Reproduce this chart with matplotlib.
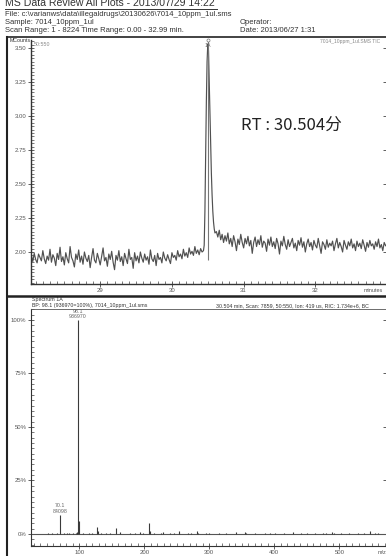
import matplotlib
matplotlib.use('Agg')
import matplotlib.pyplot as plt
import numpy as np
from matplotlib.lines import Line2D
from matplotlib.ticker import MultipleLocator, FormatStrFormatter

# ---------------- data ----------------
rt = 30.504
# TIC (MCounts x 1000) before the peak, scans every 0.02 min from 28.04
tic_pre = [
    1975, 1930, 1990, 1945, 1920, 1985, 1960, 1935, 2010, 1950,
    1915, 1970, 1940, 2020, 1925, 1980, 1955, 1900, 1990, 1945,
    2035, 1930, 1965, 1905, 1995, 1950, 1920, 2040, 1960, 1935,
    1890, 1985, 1945, 2015, 1925, 1970, 1910, 2000, 1955, 1930,
    1975, 1885, 1960, 2025, 1940, 1920, 1990, 1950, 1905, 1970,
    2030, 1935, 1960, 1895, 1985, 1945, 2005, 1925, 1870, 1975,
    1940, 2010, 1930, 1965, 1900, 1990, 1950, 1915, 2020, 1945,
    1960, 1880, 1995, 1935, 1970, 1920, 2000, 1955, 1925, 1985,
    1940, 1965, 1910, 2015, 1950, 1930, 1975, 1900, 1990, 1945,
    1960, 1920, 2000, 1955, 1935, 1980, 1945, 1915, 1995, 1960,
    1975, 1940, 2010, 1965, 1985, 1950, 2020, 1970, 1995, 1960,
    2030, 1985, 2005, 1975, 2040, 1990, 2015, 1980, 2025, 2000,
    2010]
tic_pre_start = 28.04
# peak region
t_peak = [30.45, 30.46, 30.47, 30.48, 30.49, 30.50, 30.51, 30.52,
          30.53, 30.54, 30.55, 30.56, 30.57, 30.58, 30.59, 30.60]
tic_peak = [2050, 2300, 2700, 3100, 3400, 3530, 3480, 3250,
            3000, 2780, 2580, 2420, 2300, 2220, 2170, 2140]
# after the peak, every 0.02 min from 30.62
tic_post = [
    2150, 2110, 2160, 2090, 2130, 2070, 2120, 2080, 2140, 2060,
    2100, 2040, 2120, 2075, 2010, 2095, 2055, 2130, 2070, 2030,
    2100, 2060, 2115, 2045, 2085, 1990, 2070, 2110, 2040, 2090,
    2055, 2120, 2035, 2080, 2065, 2005, 2095, 2050, 2110, 2040,
    2075, 2025, 2100, 2060, 1985, 2080, 2045, 2115, 2055, 2020,
    2090, 2040, 2070, 2100, 2030, 2065, 2010, 2085, 2050, 2105,
    2035, 2075, 2000, 2060, 2095, 2040, 2070, 2015, 2085, 2050,
    2030, 2100, 2045, 1990, 2075, 2055, 2020, 2090, 2035, 2065,
    2045, 2080, 2010, 2060, 2100, 2030, 2070, 2040, 2000, 2085,
    2050, 2020, 2075, 2045, 2095, 2030, 2060, 2010, 2080, 2040,
    2065, 2025, 2090, 2050, 2005, 2070, 2035, 2085, 2045, 2060,
    2020, 2075, 2040, 2095, 2030, 2055, 2010, 2070, 2045, 2060]
tic_post_start = 30.62
scan_step = 0.02
marker_low = 1.94

# mass spectrum (m/z, relative %)
ms_mz = [70.1, 98.1, 99, 96, 97, 95, 127, 128, 156, 163, 193, 207, 208,
         226, 229, 253, 254, 267, 281, 282, 341, 355, 429, 489, 547,
         52, 58, 65, 77, 81, 84, 91, 105, 115, 119, 133, 141, 147, 178,
         185, 198, 215, 239, 245, 272, 295, 300, 315, 325, 356, 371, 385,
         394, 401, 415, 441, 451, 463, 475, 480, 492, 503, 515, 528, 538,
         555, 560]
ms_rel = [8.98, 100, 6.1, 1.0, 0.6, 0.5, 3.3, 1.6, 2.8, 0.8, 0.8, 5.1, 1.2,
          0.6, 0.7, 1.2, 0.6, 0.6, 1.2, 0.5, 0.8, 1.0, 0.8, 0.8, 1.2,
          0.3, 0.4, 0.4, 0.5, 0.6, 0.4, 0.5, 0.4, 0.3, 0.4, 0.5, 0.3, 0.4, 0.3,
          0.4, 0.3, 0.4, 0.5, 0.3, 0.4, 0.3, 0.4, 0.3, 0.4, 0.5, 0.3, 0.4,
          0.3, 0.4, 0.3, 0.4, 0.3, 0.5, 0.3, 0.4, 0.3, 0.4, 0.3, 0.4, 0.5,
          0.3, 0.4]
label_peaks = [(98.1, 936970), (70.1, 84098)]

# ---------------- figure ----------------
W, H = 386, 556
def fx(x): return x / W
def fy(y): return 1 - y / H

plt.rcParams['font.family'] = ['Liberation Sans', 'DejaVu Sans']
fig = plt.figure(figsize=(W / 100, H / 100), dpi=100)
fig.patch.set_facecolor('white')

hc = '#333333'
gc = '#666666'

# header
fig.text(fx(5), fy(3.5), 'MS Data Review All Plots - 2013/07/29 14:22', fontsize=7.6,
         color=hc, va='center', ha='left')
fig.add_artist(Line2D([fx(5), fx(217)], [fy(9), fy(9)], color=hc, lw=0.7))
fig.text(fx(5), fy(14), r'File: c:\varianws\data\illegaldrugs\20130626\7014_10ppm_1ul.sms',
         fontsize=5.5, color=hc, va='center')
fig.text(fx(5), fy(23), 'Sample: 7014_10ppm_1ul', fontsize=5.5, color=hc, va='center')
fig.text(fx(240), fy(23), 'Operator:', fontsize=5.5, color=hc, va='center')
fig.text(fx(5), fy(31), 'Scan Range: 1 - 8224 Time Range: 0.00 - 32.99 min.', fontsize=5.5,
         color=hc, va='center')
fig.text(fx(240), fy(31), 'Date: 2013/06/27 1:31', fontsize=5.5, color=hc, va='center')

# panel frames
fig.add_artist(Line2D([fx(7), fx(386)], [fy(37), fy(37)], color='#222222', lw=1.2))
fig.add_artist(Line2D([fx(7), fx(7)], [fy(37), fy(556)], color='#222222', lw=1.5))
fig.add_artist(Line2D([fx(7), fx(386)], [fy(295.5), fy(295.5)], color='#222222', lw=1.8))

# ---------------- chromatogram ----------------
ax1 = fig.add_axes([fx(31), fy(284), fx(386) - fx(31), fy(40) - fy(284)])
t_pre = tic_pre_start + scan_step * np.arange(len(tic_pre))
t_post = tic_post_start + scan_step * np.arange(len(tic_post))
t_all = np.concatenate([t_pre, t_peak, t_post])
y_all = np.concatenate([tic_pre, tic_peak, tic_post]) / 1000.0
ax1.plot(t_all, y_all, color='#505050', lw=0.85)
ax1.set_xlim(28.035, 32.985)
ax1.set_ylim(1.7647, 3.5588)
ax1.vlines(rt, marker_low, 3.5588, color='#777777', lw=0.8)
ax1.plot([rt], [3.5588], marker='o', ms=2.2, mfc='white', mec='#777777', mew=0.5,
         clip_on=False)
ax1.text(rt, 3.52, '1A', fontsize=3.8, color=gc, ha='center', va='center')

ax1.xaxis.set_major_locator(MultipleLocator(1))
ax1.xaxis.set_minor_locator(MultipleLocator(0.1))
ax1.yaxis.set_major_locator(MultipleLocator(0.25))
ax1.yaxis.set_minor_locator(MultipleLocator(0.025))
ax1.yaxis.set_major_formatter(FormatStrFormatter('%.2f'))
ax1.xaxis.set_major_formatter(FormatStrFormatter('%d'))
ax1.spines['top'].set_visible(False)
ax1.spines['right'].set_visible(False)
ax1.spines['left'].set_color('#333333')
ax1.spines['bottom'].set_color('#333333')
ax1.spines['left'].set_linewidth(1.0)
ax1.spines['bottom'].set_linewidth(1.0)
ax1.yaxis.set_ticks_position('both')
ax1.tick_params(axis='y', which='major', direction='inout', length=5, width=0.6,
                labelsize=4.3, labelcolor='#555555', pad=0.8, color='#444444')
ax1.tick_params(axis='y', which='minor', direction='in', length=2, width=0.5,
                color='#444444', right=False)
ax1.tick_params(axis='x', which='major', direction='inout', length=4, width=0.6,
                labelsize=4.3, labelcolor='#555555', pad=1, color='#444444')
ax1.tick_params(axis='x', which='minor', direction='in', length=2.2, width=0.5,
                color='#444444')
ax1.patch.set_alpha(0)

fig.text(fx(10), fy(41), 'MCounts', fontsize=3.8, color=hc, va='center')
fig.text(fx(34), fy(45), '50:550', fontsize=3.8, color='#888888', va='center')
fig.text(fx(380), fy(41), '7014_10ppm_1ul.SMS TIC', fontsize=3.6, color='#888888',
         va='center', ha='right')
fig.text(fx(364), fy(290), 'minutes', fontsize=4.0, color='#555555', va='center')
ax1.text(30.97, 2.93, 'RT : 30.504分', fontsize=12, color='#222222', va='center',
         ha='left', family=['Noto Sans CJK SC', 'DejaVu Sans'])

# ---------------- spectrum ----------------
ax2 = fig.add_axes([fx(31), fy(546), fx(386) - fx(31), fy(309) - fy(546)])
ax2.set_xlim(25.7, 571.8)
ax2.set_ylim(-5.61, 105.1)
ax2.axhline(0, color='#555555', lw=0.8)
ax2.vlines(ms_mz, 0, ms_rel, color='#3a3a3a', lw=0.8)
for mz, ab in label_peaks:
    rel = ms_rel[ms_mz.index(mz)]
    ax2.text(mz, rel + 0.5, f'{mz:.1f}\n{ab}', fontsize=3.8, color=gc, ha='center',
             va='bottom', linespacing=1.05)

ax2.xaxis.set_major_locator(MultipleLocator(100))
ax2.xaxis.set_minor_locator(MultipleLocator(10))
ax2.yaxis.set_minor_locator(MultipleLocator(2.5))
ax2.yaxis.set_major_formatter(FormatStrFormatter('%d%%'))
ax2.set_yticks([0, 25, 50, 75, 100])
ax2.spines['right'].set_visible(False)
ax2.spines['top'].set_color('#555555')
ax2.spines['top'].set_linewidth(0.6)
ax2.spines['left'].set_color('#333333')
ax2.spines['bottom'].set_color('#333333')
ax2.yaxis.set_ticks_position('both')
ax2.tick_params(axis='y', which='major', direction='inout', length=5, width=0.6,
                labelsize=4.3, labelcolor='#555555', pad=0.8, color='#444444')
ax2.tick_params(axis='y', which='minor', direction='in', length=2, width=0.5,
                color='#444444', right=False)
ax2.tick_params(axis='x', which='major', direction='inout', length=4, width=0.6,
                labelsize=4.3, labelcolor='#555555', pad=1, color='#444444')
ax2.tick_params(axis='x', which='minor', direction='in', length=2.2, width=0.5,
                color='#444444')
ax2.patch.set_alpha(0)

fig.text(fx(32), fy(300), 'Spectrum 1A', fontsize=3.8, color=hc, va='center')
fig.text(fx(32), fy(305.3), 'BP: 98.1 (936970=100%), 7014_10ppm_1ul.sms', fontsize=3.8,
         color=hc, va='center')
fig.text(fx(216), fy(305.3), '30.504 min, Scan: 7859, 50:550, Ion: 419 us, RIC: 1.734e+6, BC',
         fontsize=3.8, color=hc, va='center')
fig.text(fx(378), fy(553), 'm/z', fontsize=4.0, color='#555555', va='center')

fig.savefig('out.png', dpi=100, facecolor='white')
